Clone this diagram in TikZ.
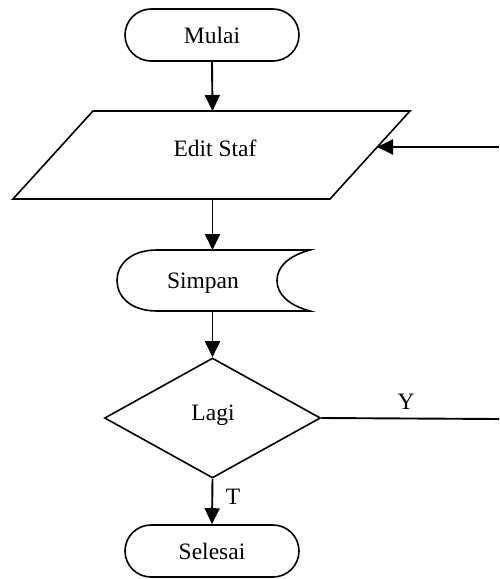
\documentclass[tikz,border=0pt]{standalone}
\usepackage{fontspec}
\setmainfont{Liberation Serif}
\usetikzlibrary{shapes.geometric,arrows.meta}
\begin{document}
\begin{tikzpicture}[x=1pt,y=-1pt,
  every node/.style={font=\fontsize{23.5}{26}\selectfont},
  shapeline/.style={draw=black,line width=1.6pt},
  terminal/.style={shapeline,rectangle,rounded corners=26pt,minimum width=174pt,minimum height=52pt,inner sep=0pt},
  decision/.style={shapeline,diamond,aspect=1.8,minimum width=216pt,minimum height=120pt,inner sep=0pt},
  flow/.style={draw=black,line width=1.9pt,-{Triangle[length=16pt,width=15pt]}},
  plain/.style={draw=black,line width=1.9pt}]
\useasboundingbox (0,0) rectangle (499,579);

% terminals
\node[terminal] (mulai) at (212,35) {Mulai};
\node[terminal] (selesai) at (212,551) {Selesai};

% parallelogram (input)
\draw[shapeline,line join=miter] (93,111) -- (410,111) -- (330,199) -- (13,199) -- cycle;
\node (edit) at (215,148) {Edit Staf};
\coordinate (editTop) at (212.5,111);
\coordinate (editBot) at (212.5,199);
\coordinate (editR) at (377,147);

% stored data
\draw[shapeline] (157,250) .. controls (130,250) and (117,265) .. (117,280.5)
  .. controls (117,296) and (130,311) .. (157,311) -- (310,311)
  .. controls (288,305) and (277,294) .. (277,280.5)
  .. controls (277,267) and (288,256) .. (310,250) -- cycle;
\node (simpan) at (203,283) {Simpan};
\coordinate (simpanTop) at (212.5,250);
\coordinate (simpanBot) at (212.5,311);

% decision
\node[decision] (lagi) at (212.5,418) {};
\node at (213,415) {Lagi};

% edge coordinates
\coordinate (yEnd) at (499,419);
\coordinate (rIn) at (499,147);

% connectors
\draw[flow] (mulai.south) -- (editTop);
\draw[flow] (editBot) -- (simpanTop);
\draw[flow] (simpanBot) -- (lagi.north);
\draw[plain] (lagi.east) -- (yEnd);
\node (ylab) at (406,402) {Y};
\draw[flow] (rIn) -- (editR);
\draw[flow] (lagi.south) -- (selesai.north);
\node (tlab) at (233,497) {T};
\end{tikzpicture}
\end{document}
